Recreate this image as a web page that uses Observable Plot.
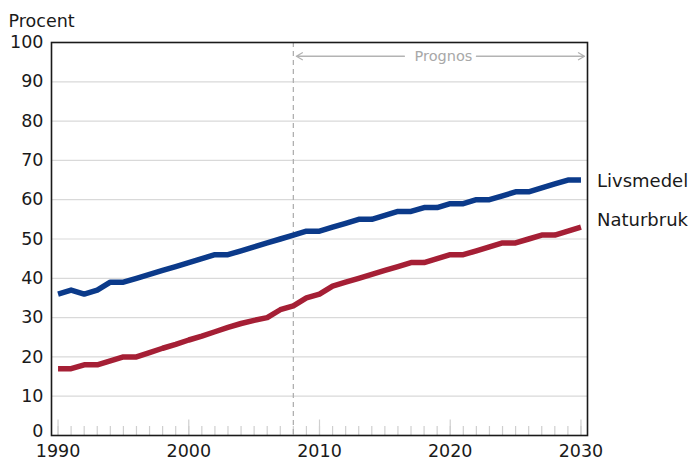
<!DOCTYPE html>
<html>
<head>
<meta charset="utf-8">
<script src="https://cdn.jsdelivr.net/npm/d3@7"></script>
<script src="https://cdn.jsdelivr.net/npm/@observablehq/plot@0.6"></script>
<style>
  html, body { margin: 0; padding: 0; background: #fff; }
  #chart { width: 694px; height: 461px; }
</style>
</head>
<body>
<div id="chart"></div>
<script>
const years = [1990,1991,1992,1993,1994,1995,1996,1997,1998,1999,
  2000,2001,2002,2003,2004,2005,2006,2007,2008,2009,
  2010,2011,2012,2013,2014,2015,2016,2017,2018,2019,
  2020,2021,2022,2023,2024,2025,2026,2027,2028,2029,2030];
const livsmedel = [36,37,36,37,39,39,40,41,42,43,
  44,45,46,46,47,48,49,50,51,52,
  52,53,54,55,55,56,57,57,58,58,
  59,59,60,60,61,62,62,63,64,65,65];
const naturbruk = [17,17,18,18,19,20,20,21.1,22.2,23.2,
  24.3,25.3,26.4,27.5,28.5,29.3,30,32,33,35,
  36,38,39,40,41,42,43,44,44,45,
  46,46,47,48,49,49,50,51,51,52,53];
const seriesNames = ["Livsmedel", "Naturbruk"];
const xTicks = [1990, 2000, 2010, 2020, 2030];
const yTicks = [10,20,30,40,50,60,70,80,90,100];
const yZeroTick = [0];
const gridValues = [10,20,30,40,50,60,70,80,90];
const prognosStart = 2008;
const prognosEnd = 2030.5;
const prognosLabel = "Prognos";
const prognosLevel = 96.5;
const yTitle = "Procent";

const W = 694, H = 461;
const mL = 51, mR = 107, mT = 42, mB = 26;
const plotH = H - mT - mB;
const colors = {Livsmedel: "#0b3a8a", Naturbruk: "#a51f35"};

const data = [];
years.forEach((yr, i) => {
  data.push({year: yr, value: livsmedel[i], series: "Livsmedel"});
  data.push({year: yr, value: naturbruk[i], series: "Naturbruk"});
});
const lastOf = s => data.filter(d => d.series === s).slice(-1);
const prognosMid = (prognosStart + prognosEnd) / 2;

const chart = Plot.plot({
  width: W, height: H,
  marginLeft: mL, marginRight: mR, marginTop: mT, marginBottom: mB,
  style: {fontFamily: "DejaVu Sans", fontSize: "17.5px", background: "#fff", color: "#1a1a1a", overflow: "visible"},
  x: {domain: [1989.5, 2030.5]},
  y: {domain: [0, 100]},
  marks: [
    Plot.ruleY(gridValues, {stroke: "#d9d9d9", strokeWidth: 1.2}),
    Plot.ruleX(years, {stroke: "#cfcfcf", strokeWidth: 1.2, insetTop: plotH - 9}),
    Plot.ruleX(xTicks, {stroke: "#cfcfcf", strokeWidth: 1.2, insetTop: plotH - 15.5}),
    Plot.ruleX([prognosStart], {stroke: "#b0b0b0", strokeWidth: 1.3, strokeDasharray: "5,4"}),
    Plot.arrow([0], {x1: prognosMid, x2: prognosStart, y1: prognosLevel, y2: prognosLevel,
      insetStart: 36, insetEnd: 3, stroke: "#b3b3b3", strokeWidth: 1.3, headLength: 8, bend: 0}),
    Plot.arrow([0], {x1: prognosMid, x2: prognosEnd, y1: prognosLevel, y2: prognosLevel,
      insetStart: 36, insetEnd: 3, stroke: "#b3b3b3", strokeWidth: 1.3, headLength: 8, bend: 0}),
    Plot.text([prognosLabel], {x: prognosMid, y: prognosLevel, text: d => d, fill: "#a8a8a8", fontSize: 14.5, dx: 3}),
    Plot.line(data, {x: "year", y: "value", z: "series", stroke: d => colors[d.series],
      strokeWidth: 5.5, strokeLinejoin: "round", strokeLinecap: "butt"}),
    Plot.text(lastOf("Livsmedel"), {x: "year", y: "value", text: "series", textAnchor: "start", dx: 16, dy: 1, fill: "#1a1a1a", fontSize: 18}),
    Plot.text(lastOf("Naturbruk"), {x: "year", y: "value", text: "series", textAnchor: "start", dx: 16, dy: -7, fill: "#1a1a1a", fontSize: 18}),
    Plot.frame({stroke: "#1a1a1a", strokeWidth: 1.6}),
    Plot.axisY({ticks: yTicks, tickSize: 0, tickPadding: 8, tickFormat: d => String(d), label: null}),
    Plot.axisY({ticks: yZeroTick, tickSize: 0, tickPadding: 8, tickFormat: d => String(d), label: null, dy: -4}),
    Plot.axisX({ticks: xTicks, tickSize: 0, tickPadding: 9, tickFormat: d => String(d), label: null}),
    Plot.text([yTitle], {frameAnchor: "top-left", text: d => d, textAnchor: "start", lineAnchor: "middle",
      dx: -43, dy: -21.5, fontSize: 17.5, fill: "#1a1a1a"})
  ]
});
document.getElementById("chart").appendChild(chart);
</script>
</body>
</html>
